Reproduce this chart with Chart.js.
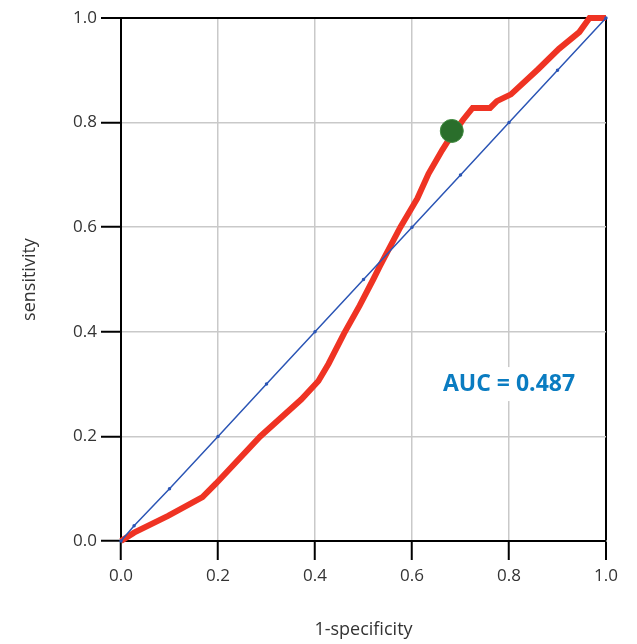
<!DOCTYPE html>
<html>
<head>
<meta charset="utf-8">
<script src="https://cdn.jsdelivr.net/npm/chart.js@4"></script>
<style>
  html, body { margin: 0; padding: 0; background: #fff; }
  #wrap { width: 637px; height: 644px; }
</style>
</head>
<body>
<div id="wrap"><canvas id="roc"></canvas></div>
<script>
"use strict";

/* ROC curve */
var rocX = [0, 0.027, 0.097, 0.168, 0.196, 0.287, 0.372, 0.407, 0.428, 0.46, 0.492, 0.52, 0.534, 0.576,
    0.611, 0.634, 0.662, 0.673, 0.705, 0.725, 0.761, 0.775, 0.804, 0.86, 0.903, 0.945, 0.966, 0.994, 1];
var rocY = [0, 0.016, 0.048, 0.084, 0.11, 0.2, 0.271, 0.306, 0.339, 0.397, 0.45, 0.5, 0.526, 0.6,
    0.655, 0.702, 0.747, 0.763, 0.805, 0.828, 0.828, 0.841, 0.854, 0.902, 0.941, 0.973, 1, 1, 1];

/* reference (chance) line */
var refX = [0, 0.027, 0.1, 0.2, 0.3, 0.4, 0.5, 0.6, 0.7, 0.8, 0.9, 1];
var refY = [0, 0.029, 0.1, 0.2, 0.3, 0.4, 0.5, 0.6, 0.7, 0.8, 0.9, 1];

/* optimal cut-off point */
var cutX = [0.682];
var cutY = [0.784];

var tickValues = [0, 0.2, 0.4, 0.6, 0.8, 1.0];
var aucText = 'AUC = 0.487';
var aucAt = { x: 0.8, y: 0.302 };

function toPoints(xs, ys) {
    return xs.map(function (x, i) { return { x: x, y: ys[i] }; });
}

/* AUC label on a white patch, placed in data units */
var aucLabel = {
    id: 'aucLabel',
    afterDatasetsDraw: function (chart) {
        var ctx = chart.ctx;
        var px = chart.scales.x.getPixelForValue(aucAt.x);
        var py = chart.scales.y.getPixelForValue(aucAt.y);
        ctx.save();
        ctx.font = 'bold 23px "Open Sans"';
        var w = ctx.measureText(aucText).width;
        ctx.fillStyle = '#fff';
        ctx.fillRect(px - w / 2 - 6, py - 16, w + 12, 34);
        ctx.fillStyle = '#0a7cc1';
        ctx.textAlign = 'center';
        ctx.textBaseline = 'middle';
        ctx.fillText(aucText, px, py + 1);
        ctx.restore();
    }
};

function gridColor(c) {
    return c.tick && c.tick.value === 1 ? '#000' : '#c9c9c9';
}
function gridWidth(c) {
    return c.tick && c.tick.value === 1 ? 2 : 1.5;
}

var tickFont = { family: '"Open Sans"', size: 17 };
var titleFont = { family: '"Open Sans"', size: 18 };

var rocctx = document.getElementById('roc').getContext('2d');
var rocConfig = {
    type: 'scatter',
    data: {
        datasets: [{
            label: 'ROC',
            data: toPoints(rocX, rocY),
            showLine: true,
            borderColor: '#ef3323',
            backgroundColor: '#ef3323',
            borderWidth: 6,
            pointRadius: 0,
            tension: 0,
            clip: false,
            order: 3
        }, {
            label: 'reference',
            data: toPoints(refX, refY),
            showLine: true,
            borderColor: '#2b55b5',
            backgroundColor: '#2b55b5',
            borderWidth: 1.5,
            pointRadius: 1,
            tension: 0,
            clip: false,
            order: 2
        }, {
            label: 'cut-off',
            data: toPoints(cutX, cutY),
            showLine: false,
            backgroundColor: '#2a6e2b',
            borderColor: '#3f8a3f',
            borderWidth: 1,
            pointRadius: 11.5,
            clip: false,
            order: 1
        }]
    },
    options: {
        animation: false,
        responsive: true,
        maintainAspectRatio: false,
        layout: {
            padding: { top: 18, right: 31, left: 0, bottom: 0 }
        },
        plugins: {
            legend: { display: false },
            tooltip: { enabled: false }
        },
        scales: {
            x: {
                type: 'linear',
                min: 0,
                max: 1,
                afterFit: function (scale) { scale.height = 103; },
                afterBuildTicks: function (scale) {
                    scale.ticks = tickValues.map(function (v) { return { value: v }; });
                },
                grid: {
                    color: gridColor,
                    lineWidth: gridWidth,
                    tickColor: '#000',
                    tickWidth: 2,
                    tickLength: 19
                },
                border: { display: true, color: '#000', width: 2 },
                ticks: {
                    color: '#333',
                    font: tickFont,
                    padding: 6,
                    maxRotation: 0,
                    callback: function (v) { return Number(v).toFixed(1); }
                },
                title: {
                    display: true,
                    text: '1-specificity',
                    color: '#333',
                    font: titleFont,
                    padding: { top: 0, bottom: 3 }
                }
            },
            y: {
                type: 'linear',
                min: 0,
                max: 1,
                afterFit: function (scale) { scale.width = 121; },
                afterBuildTicks: function (scale) {
                    scale.ticks = tickValues.map(function (v) { return { value: v }; });
                },
                grid: {
                    color: gridColor,
                    lineWidth: gridWidth,
                    tickColor: '#000',
                    tickWidth: 2,
                    tickLength: 20
                },
                border: { display: true, color: '#000', width: 2 },
                ticks: {
                    color: '#333',
                    font: tickFont,
                    padding: 4,
                    callback: function (v) { return Number(v).toFixed(1); }
                },
                title: {
                    display: true,
                    text: 'sensitivity',
                    color: '#333',
                    font: titleFont,
                    padding: { top: 19, bottom: 0 }
                }
            }
        }
    },
    plugins: [aucLabel]
};
var roc = new Chart(rocctx, rocConfig);
</script>
</body>
</html>
